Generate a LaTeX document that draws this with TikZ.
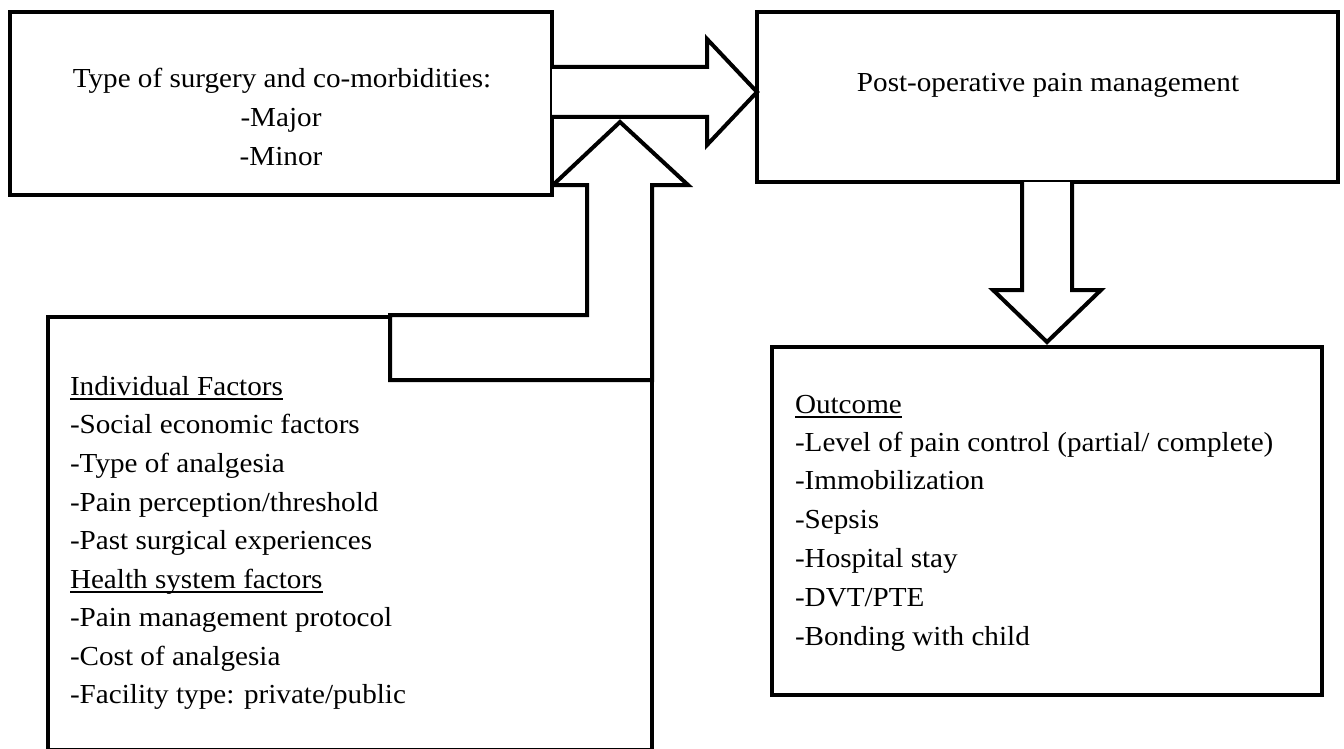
\documentclass[tikz,border=0pt]{standalone}
\usepackage{fontspec}
\setmainfont{Liberation Serif}[FakeStretch=1.06]
\begin{document}
\begin{tikzpicture}[x=1pt,y=-1pt,
  box/.style={draw=black, line width=4pt, fill=white, inner sep=0pt, outer sep=0pt, anchor=north west},
  blockarrow/.style={draw=black, line width=4pt, fill=white, line join=miter},
  txt/.style={inner sep=0pt, outer sep=0pt, font=\fontsize{27.5pt}{38.6pt}\selectfont},
  ulline/.style={draw=black, line width=1.5pt}]
\useasboundingbox (0,0) rectangle (1344,749);
% box 3 (individual factors), drawn below the L-shaped arrow
\node[box, minimum width=604pt, minimum height=432.5pt] (b3) at (48,317) {};
% L-shaped up arrow
\coordinate (uptip) at (620,122);
\draw[blockarrow] (652,380) -- (652,185) -- (688,185) -- (uptip) -- (553,185) -- (587,185)
  -- (587,315) -- (390,315) -- (390,380) -- cycle;
% boxes
\node[box, minimum width=542pt, minimum height=183pt] (b1) at (10,12) {};
\node[box, minimum width=581pt, minimum height=170pt] (b2) at (757,12) {};
\node[box, minimum width=550pt, minimum height=348pt] (b4) at (772,347) {};
% right arrow b1 -> b2
\draw[blockarrow] (552,67) -- (707,67) -- (707,39) -- (757,92) -- (707,145) -- (707,117) -- (552,117);
% down arrow b2 -> b4
\draw[blockarrow] (1022,182) -- (1022,290) -- (993,290) -- (1047,342) -- (1101,290) -- (1072,290) -- (1072,182);
% box 1 text
\node[txt, anchor=base] (t11) at (282,88) {Type of surgery and co-morbidities:};
\node[txt, anchor=base] (t12) at (281,127) {-Major};
\node[txt, anchor=base] (t13) at (281,165) {-Minor};
% box 2 text
\node[txt, anchor=base] (t21) at (1048,92) {Post-operative pain management};
% box 3 text
\node[txt, anchor=base west] (t31) at (70,395) {Individual Factors};
\node[txt, anchor=base west] (t32) at (70,433.5) {-Social economic factors};
\node[txt, anchor=base west] (t33) at (70,472) {-Type of analgesia};
\node[txt, anchor=base west] (t34) at (70,511) {-Pain perception/threshold};
\node[txt, anchor=base west] (t35) at (70,549.5) {-Past surgical experiences};
\node[txt, anchor=base west] (t36) at (70,588) {Health system factors};
\node[txt, anchor=base west] (t37) at (70,626.5) {-Pain management protocol};
\node[txt, anchor=base west] (t38) at (70,665) {-Cost of analgesia};
\node[txt, anchor=base west] (t39) at (70,703.5) {-Facility type: private/public};
\draw[ulline] ([yshift=-4pt]t31.base west) -- ([yshift=-4pt]t31.base east);
\draw[ulline] ([yshift=-4pt]t36.base west) -- ([yshift=-4pt]t36.base east);
% box 4 text
\node[txt, anchor=base west] (t41) at (795,413) {Outcome};
\node[txt, anchor=base west] (t42) at (795,451) {-Level of pain control (partial/ complete)};
\node[txt, anchor=base west] (t43) at (795,489.5) {-Immobilization};
\node[txt, anchor=base west] (t44) at (795,528) {-Sepsis};
\node[txt, anchor=base west] (t45) at (795,567) {-Hospital stay};
\node[txt, anchor=base west] (t46) at (795,606) {-DVT/PTE};
\node[txt, anchor=base west] (t47) at (795,645) {-Bonding with child};
\draw[ulline] ([yshift=-4pt]t41.base west) -- ([yshift=-4pt]t41.base east);
\end{tikzpicture}
\end{document}
